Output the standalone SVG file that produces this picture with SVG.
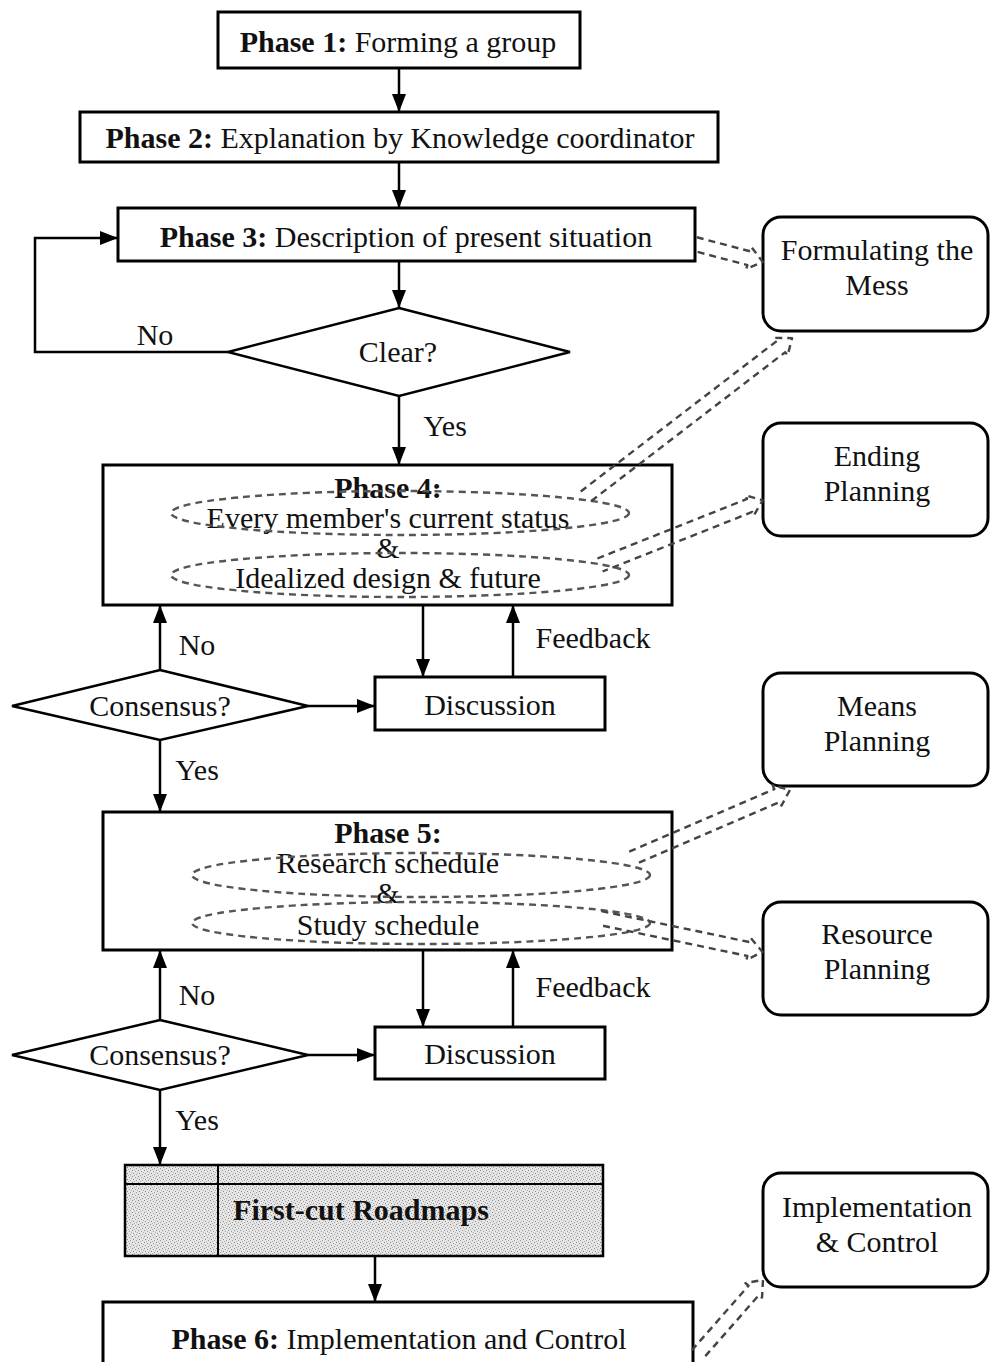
<svg xmlns="http://www.w3.org/2000/svg" width="990" height="1362" viewBox="0 0 990 1362">
  <style>
    text { font-family: "Liberation Serif", "Times New Roman", serif; font-size: 30px; fill: #111; text-anchor: middle; dominant-baseline: central; }
    .b { font-weight: bold; }
    .box { fill: #fff; stroke: #000; stroke-width: 3; }
    .dia { fill: #fff; stroke: #000; stroke-width: 2.5; }
    .rbox { fill: #fff; stroke: #000; stroke-width: 3; }
    .flow { fill: none; stroke: #000; stroke-width: 2.5; marker-end: url(#arr); }
    .oval { fill: none; stroke: #555; stroke-width: 2.4; stroke-dasharray: 7 5; }
    .blk { fill: none; stroke: #444; stroke-width: 2.4; stroke-dasharray: 7 5; stroke-linejoin: round; }
  </style>
  <defs>
    <marker id="arr" viewBox="0 0 18 14" refX="18" refY="7" markerWidth="18" markerHeight="14" markerUnits="userSpaceOnUse" orient="auto">
      <path d="M0,0 L18,7 L0,14 Z" fill="#000"/>
    </marker>
    <pattern id="dither" width="6" height="6" patternUnits="userSpaceOnUse">
      <rect width="6" height="6" fill="#e6e6e6"/>
      <rect x="0" y="0" width="1" height="1" fill="#8a8a8a"/>
      <rect x="3" y="1" width="1" height="1" fill="#9a9a9a"/>
      <rect x="1" y="3" width="1" height="1" fill="#8a8a8a"/>
      <rect x="4" y="4" width="1" height="1" fill="#9a9a9a"/>
      <rect x="2" y="5" width="1" height="1" fill="#b0b0b0"/>
      <rect x="5" y="2" width="1" height="1" fill="#b0b0b0"/>
    </pattern>
  </defs>

  <!-- flow connectors -->
  <g id="connectors">
    <line class="flow" x1="399" y1="68" x2="399" y2="112"/>
    <line class="flow" x1="399" y1="162" x2="399" y2="208"/>
    <line class="flow" x1="399" y1="261" x2="399" y2="308"/>
    <polyline class="flow" points="228,352 35,352 35,238 118,238"/>
    <line class="flow" x1="399" y1="396" x2="399" y2="465"/>
    <line class="flow" x1="160" y1="670" x2="160" y2="605"/>
    <line class="flow" x1="308" y1="706" x2="375" y2="706"/>
    <line class="flow" x1="423" y1="605" x2="423" y2="677"/>
    <line class="flow" x1="513" y1="677" x2="513" y2="605"/>
    <line class="flow" x1="160" y1="740" x2="160" y2="812"/>
    <line class="flow" x1="160" y1="1020" x2="160" y2="950"/>
    <line class="flow" x1="308" y1="1055" x2="375" y2="1055"/>
    <line class="flow" x1="423" y1="950" x2="423" y2="1027"/>
    <line class="flow" x1="513" y1="1027" x2="513" y2="950"/>
    <line class="flow" x1="160" y1="1090" x2="160" y2="1165"/>
    <line class="flow" x1="375" y1="1256" x2="375" y2="1302"/>

    <text x="155" y="334">No</text>
    <text x="445" y="425">Yes</text>
    <text x="197" y="644">No</text>
    <text x="593" y="637">Feedback</text>
    <text x="197" y="769">Yes</text>
    <text x="197" y="994">No</text>
    <text x="593" y="986">Feedback</text>
    <text x="197" y="1119">Yes</text>
  </g>

  <!-- phase boxes -->
  <g id="phase1">
    <rect class="box" x="218" y="12" width="362" height="56"/>
    <text x="398" y="41"><tspan class="b">Phase 1:</tspan> Forming a group</text>
  </g>
  <g id="phase2">
    <rect class="box" x="80" y="112" width="638" height="50"/>
    <text x="400" y="137"><tspan class="b">Phase 2:</tspan> Explanation by Knowledge coordinator</text>
  </g>
  <g id="phase3">
    <rect class="box" x="118" y="208" width="577" height="53"/>
    <text x="406" y="236"><tspan class="b">Phase 3:</tspan> Description of present situation</text>
  </g>
  <g id="clear">
    <polygon class="dia" points="399,308 570,352 399,396 228,352"/>
    <text x="398" y="351">Clear?</text>
  </g>
  <g id="phase4">
    <rect class="box" x="103" y="465" width="569" height="140"/>
    <text class="b" x="388" y="487">Phase 4:</text>
    <text x="388" y="517">Every member's current status</text>
    <text x="388" y="547">&amp;</text>
    <text x="388" y="577">Idealized design &amp; future</text>
    <ellipse class="oval" cx="400" cy="513" rx="229" ry="22"/>
    <ellipse class="oval" cx="400" cy="575" rx="229" ry="22"/>
  </g>
  <g id="consensus1">
    <polygon class="dia" points="160,670 308,706 160,740 12,706"/>
    <text x="160" y="705">Consensus?</text>
  </g>
  <g id="discussion1">
    <rect class="box" x="375" y="677" width="230" height="53"/>
    <text x="490" y="704">Discussion</text>
  </g>
  <g id="phase5">
    <rect class="box" x="103" y="812" width="569" height="138"/>
    <text class="b" x="388" y="832">Phase 5:</text>
    <text x="388" y="862">Research schedule</text>
    <text x="388" y="892">&amp;</text>
    <text x="388" y="924">Study schedule</text>
    <ellipse class="oval" cx="421" cy="875" rx="229" ry="22"/>
    <ellipse class="oval" cx="421" cy="923" rx="229" ry="21"/>
  </g>
  <g id="consensus2">
    <polygon class="dia" points="160,1020 308,1055 160,1090 12,1055"/>
    <text x="160" y="1054">Consensus?</text>
  </g>
  <g id="discussion2">
    <rect class="box" x="375" y="1027" width="230" height="52"/>
    <text x="490" y="1053">Discussion</text>
  </g>
  <g id="roadmaps">
    <rect x="125" y="1165" width="478" height="91" fill="url(#dither)" stroke="#000" stroke-width="2.5"/>
    <line x1="125" y1="1184" x2="603" y2="1184" stroke="#000" stroke-width="2"/>
    <line x1="218" y1="1165" x2="218" y2="1256" stroke="#000" stroke-width="2"/>
    <text class="b" x="361" y="1209">First-cut Roadmaps</text>
  </g>
  <g id="phase6">
    <path class="box" d="M103,1366 L103,1302 L693,1302 L693,1366"/>
    <text x="399" y="1338"><tspan class="b">Phase 6:</tspan> Implementation and Control</text>
  </g>

  <!-- planning stages -->
  <g id="mess">
    <rect class="rbox" x="763" y="217" width="225" height="114" rx="18"/>
    <text x="877" y="249">Formulating the</text>
    <text x="877" y="284">Mess</text>
  </g>
  <g id="ending">
    <rect class="rbox" x="763" y="423" width="225" height="113" rx="18"/>
    <text x="877" y="455">Ending</text>
    <text x="877" y="490">Planning</text>
  </g>
  <g id="means">
    <rect class="rbox" x="763" y="673" width="225" height="113" rx="18"/>
    <text x="877" y="705">Means</text>
    <text x="877" y="740">Planning</text>
  </g>
  <g id="resource">
    <rect class="rbox" x="763" y="902" width="225" height="113" rx="18"/>
    <text x="877" y="933">Resource</text>
    <text x="877" y="968">Planning</text>
  </g>
  <g id="implementation">
    <rect class="rbox" x="763" y="1173" width="225" height="114" rx="18"/>
    <text x="877" y="1206">Implementation</text>
    <text x="877" y="1241">&amp; Control</text>
  </g>

  <!-- hollow dashed block arrows linking phases to planning stages
       (shaft half-width 7, head half-width 11, head length 14) -->
  <g id="links">
    <path class="blk" transform="translate(695,244) rotate(14.8)" d="M0,-7 L56,-7 L56,-11 L70,0 L56,11 L56,7 L0,7"/>
    <path class="blk" transform="translate(585,497) rotate(-37.5)" d="M0,-7 L247,-7 L247,-11 L261,0 L247,11 L247,7 L0,7"/>
    <path class="blk" transform="translate(600,565) rotate(-21.7)" d="M0,-7 L161,-7 L161,-11 L175,0 L161,11 L161,7 L0,7"/>
    <path class="blk" transform="translate(632,858) rotate(-23.3)" d="M0,-7 L158,-7 L158,-11 L172,0 L158,11 L158,7 L0,7"/>
    <path class="blk" transform="translate(600,918) rotate(11.8)" d="M0,-7 L152,-7 L152,-11 L166,0 L152,11 L152,7 L0,7"/>
    <path class="blk" transform="translate(697,1355) rotate(-48.7)" d="M0,-7 L86,-7 L86,-11 L100,0 L86,11 L86,7 L0,7"/>
  </g>
</svg>
